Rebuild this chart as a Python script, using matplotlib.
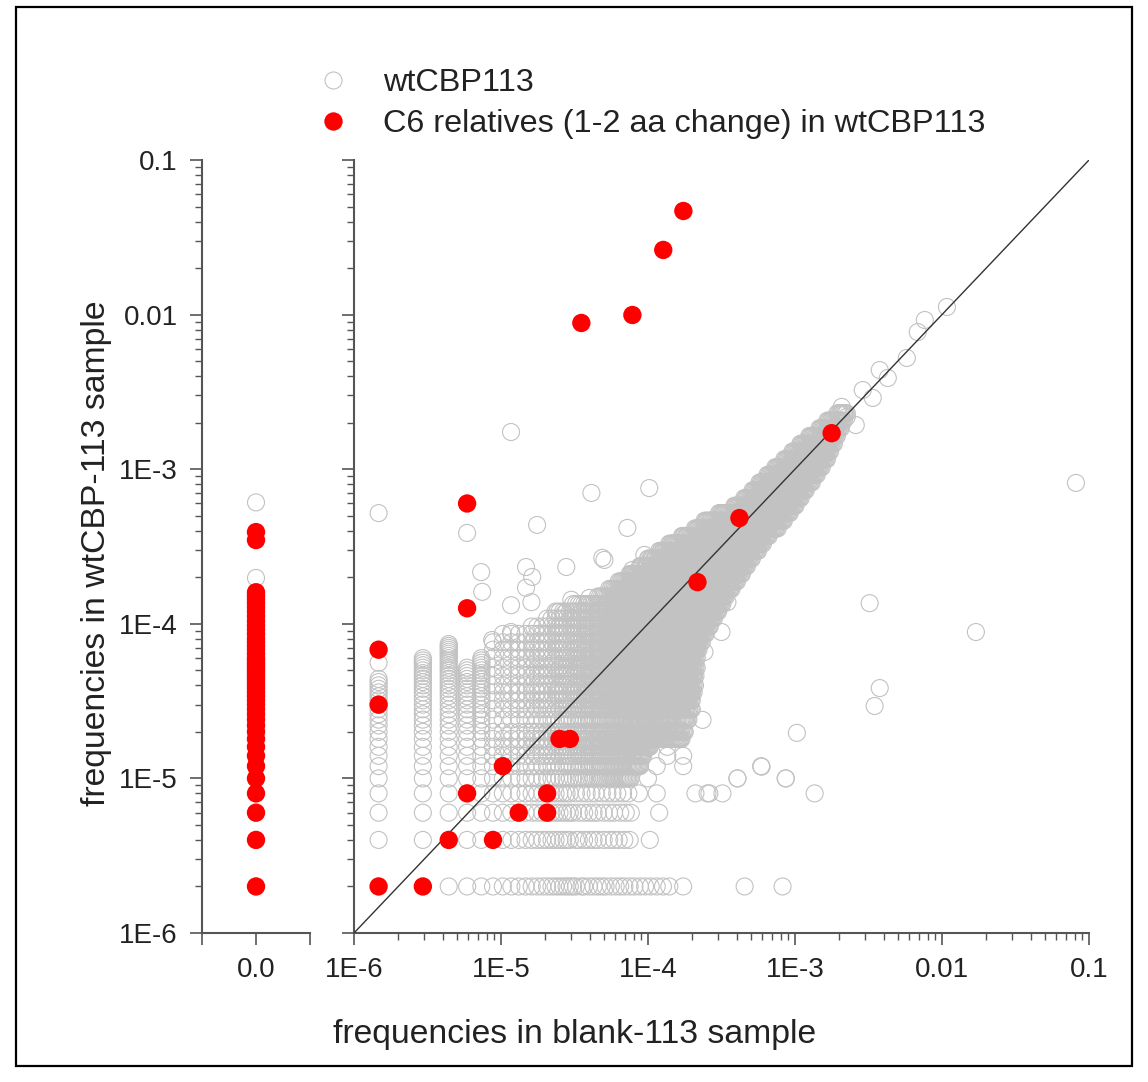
import numpy as np
import matplotlib
matplotlib.use('Agg')
import matplotlib.pyplot as plt
from matplotlib import font_manager
from matplotlib.lines import Line2D
from matplotlib.patches import Rectangle

# one read in each sample
x_unit = 1.47e-6   # blank-113
y_unit = 2.0e-6    # wtCBP-113

# sparse low rows of the grey cloud: y read count -> x read counts
low_rows_k = [1, 2, 3, 4]
low_rows_m = [
    [3, 4, 5, 6, 7, 8, 9, 10, 11, 12, 13, 14, 15, 16, 17, 18, 19, 20, 21, 22, 24, 25, 27,
     29, 31, 33, 35, 38, 41, 44, 47, 51, 55, 60, 65, 71, 78, 86, 95, 118, 309, 560],
    [1, 2, 4, 5, 7, 8, 9, 10, 11, 12, 13, 14, 15, 16, 17, 18, 19, 20, 22, 23, 25, 27, 29,
     31, 34, 37, 40, 43, 47, 51, 70],
    [1, 2, 3, 4, 5, 6, 7, 8, 10, 11, 12, 13, 15, 16, 17, 18, 19, 20, 21, 23, 25, 27, 29,
     31, 34, 37, 40, 44, 48, 52, 81],
    [1, 2, 3, 5, 6, 7, 8, 9, 10, 11, 12, 13, 15, 16, 17, 18, 19, 20, 22, 24, 26, 28, 30,
     33, 36, 39, 42, 46, 50, 59, 78, 143, 178],
]

# rows 5..8 are filled from one read up to the last count
mid_rows_k = [5, 6, 7, 8]
mid_rows_last = [52, 60, 63, 70]
mid_rows_extra = [[68, 276, 590], [78, 118, 400], [92, 118], [92]]

# stacks in the first x columns: x count -> highest y count
stack_m = [1, 2, 3, 4, 5]
stack_top = [22, 30, 37, 26, 30]

# dense core strips: y count, first and last x count
core_k = [9, 10, 12, 14, 16, 18, 20, 23, 26, 30, 34, 38, 43, 48, 54, 60, 67, 75, 84, 94,
          105, 118, 132, 148, 165, 185, 207, 232, 260, 290, 325, 365, 410, 460, 515, 580,
          650, 730, 820, 920, 1030, 1150]
core_m_lo = [6, 6, 6, 6, 6, 6, 6, 6, 6, 6, 6, 6, 7, 11, 14, 16, 21, 31, 37, 43,
             51, 60, 68, 81, 95, 116, 142, 165, 207, 263, 307, 350, 390, 442, 500, 576,
             653, 740, 851, 998, 1130, 1322]
core_m_hi = [115, 121, 128, 135, 135, 139, 142, 143, 146, 146, 150, 158, 168, 179, 191, 204,
             218, 230, 252, 274, 296, 320, 346, 381, 412, 451, 519, 571, 626, 686, 744, 805,
             885, 956, 1035, 1121, 1177, 1250, 1310, 1394, 1460, 1531]

# isolated grey points (frequencies)
iso_x = [1.47e-6, 1.47e-6, 1.17e-5, 5.88e-6, 1.76e-5, 4.12e-5, 1.02e-4, 7.24e-5, 7.33e-6,
         1.48e-5, 1.63e-5, 2.78e-5, 4.89e-5, 9.45e-5, 7.45e-6, 1.17e-5, 1.61e-5, 3.01e-5,
         3.99e-5, 2.70e-5, 7.83e-5, 6.38e-5, 8.71e-6, 1.17e-5, 2.41e-5, 5.05e-5, 1.48e-5,
         8.15e-2, 1.70e-2, 3.22e-3, 3.77e-3, 3.48e-3, 1.03e-3, 5.92e-4, 4.06e-4, 8.63e-4,
         1.36e-3, 3.21e-4, 2.54e-4, 3.47e-4, 3.16e-4, 2.42e-4, 2.35e-4,
         1.08e-2, 7.64e-3, 6.84e-3, 5.76e-3, 3.77e-3, 4.28e-3, 3.38e-3, 2.89e-3, 2.08e-3,
         2.25e-3, 2.59e-3]
iso_y = [5.2e-4, 5.6e-5, 1.74e-3, 3.87e-4, 4.36e-4, 7.02e-4, 7.55e-4, 4.17e-4, 2.16e-4,
         2.33e-4, 2.01e-4, 2.33e-4, 2.67e-4, 2.79e-4, 1.61e-4, 1.32e-4, 1.38e-4, 1.43e-4,
         1.47e-4, 1.17e-4, 2.23e-4, 1.66e-4, 7.86e-5, 8.85e-5, 1.19e-4, 2.59e-4, 1.71e-4,
         8.15e-4, 8.85e-5, 1.36e-4, 3.84e-5, 2.94e-5, 1.97e-5, 1.19e-5, 1.0e-5, 1.0e-5,
         8e-6, 8e-6, 8e-6, 1.38e-4, 8.85e-5, 6.57e-5, 2.39e-5,
         1.12e-2, 9.23e-3, 7.71e-3, 5.24e-3, 4.38e-3, 3.89e-3, 2.89e-3, 3.25e-3, 2.53e-3,
         2.18e-3, 1.93e-3]

# C6 relatives present in both samples
red_x = [1.47e-6, 2.94e-6, 4.41e-6, 8.82e-6, 1.32e-5, 2.06e-5, 5.88e-6, 2.06e-5, 1.03e-5,
         2.5e-5, 2.94e-5, 1.47e-6, 1.47e-6, 5.88e-6, 5.88e-6, 2.17e-4, 4.19e-4, 1.775e-3,
         3.52e-5, 7.83e-5, 1.27e-4, 1.74e-4]
red_y = [2e-6, 2e-6, 4e-6, 4e-6, 6e-6, 6e-6, 8e-6, 8e-6, 1.2e-5, 1.8e-5, 1.8e-5, 3e-5,
         6.8e-5, 1.26e-4, 6e-4, 1.86e-4, 4.83e-4, 1.71e-3, 8.83e-3, 9.94e-3, 2.62e-2, 4.68e-2]

# absent from blank sample (left panel), y read counts
left_grey_k = [99, 305]
left_red_k = list(range(1, 31)) + [32, 34, 36, 38, 40, 43, 46, 49, 52, 56, 60, 64, 68,
                                   72, 76, 80, 174, 196]

decade_vals = [1e-6, 1e-5, 1e-4, 1e-3, 1e-2, 1e-1]
decade_labels = ['1E-6', '1E-5', '1E-4', '1E-3', '0.01', '0.1']

# fonts
names = {f.name for f in font_manager.fontManager.ttflist}
if 'Liberation Sans Narrow' in names:
    fam, fs_big, fs_leg, fs_tick = 'Liberation Sans Narrow', 29, 28, 24
else:
    fam, fs_big, fs_leg, fs_tick = 'Liberation Sans', 24.3, 23.3, 20
plt.rcParams['font.family'] = [fam, 'DejaVu Sans']

# expand grey cloud
gx, gy = [], []
for k, ms in zip(low_rows_k, low_rows_m):
    gx += [m * x_unit for m in ms]
    gy += [k * y_unit] * len(ms)
for k, last, extra in zip(mid_rows_k, mid_rows_last, mid_rows_extra):
    ms = list(range(1, last + 1)) + extra
    gx += [m * x_unit for m in ms]
    gy += [k * y_unit] * len(ms)
for m, top in zip(stack_m, stack_top):
    ks = range(9, top + 1)
    gx += [m * x_unit] * len(ks)
    gy += [k * y_unit for k in ks]
for k, lo, hi in zip(core_k, core_m_lo, core_m_hi):
    n = max(2, int(np.log10(hi / lo) / 0.008) + 1)
    ms = np.unique(np.round(np.geomspace(lo, hi, n)))
    gx += list(ms * x_unit)
    gy += [k * y_unit] * len(ms)
gx += iso_x
gy += iso_y

grey = '#c2c2c2'
red = '#ff0000'
axc = '#555555'
s_grey = 150
s_red = 175

fig = plt.figure(figsize=(11.48, 10.82), dpi=100)
ax0 = fig.add_axes([202 / 1148, 1 - 933 / 1082, 108 / 1148, 773 / 1082])
ax = fig.add_axes([354 / 1148, 1 - 933 / 1082, 735 / 1148, 773 / 1082])

ax.scatter(gx, gy, s=s_grey, facecolors='none', edgecolors=grey, linewidths=0.8, zorder=2)
ax.plot([1e-6, 0.1], [1e-6, 0.1], color='#333333', lw=1.0, zorder=3)
ax.scatter(red_x, red_y, s=s_red, color=red, edgecolors='none', zorder=4)

ax0.scatter([0] * len(left_grey_k), [k * y_unit for k in left_grey_k], s=s_grey,
            facecolors='none', edgecolors=grey, linewidths=0.8, zorder=2)
ax0.scatter([0] * len(left_red_k), [k * y_unit for k in left_red_k], s=s_red,
            color=red, edgecolors='none', zorder=4)

for a in (ax, ax0):
    a.set_yscale('log')
    a.set_ylim(1e-6, 0.1)
    for side in ('top', 'right'):
        a.spines[side].set_visible(False)
    for side in ('left', 'bottom'):
        a.spines[side].set_color(axc)
        a.spines[side].set_linewidth(1.5)
    a.tick_params(which='major', direction='out', length=8.6, width=1.2, color=axc,
                  labelsize=fs_tick, labelcolor='#222222', pad=9)
    a.tick_params(which='minor', direction='out', length=5, width=1.0, color=axc)
    a.set_yticks(decade_vals)

ax.set_xscale('log')
ax.set_xlim(1e-6, 0.1)
ax.set_xticks(decade_vals)
ax.set_xticklabels(decade_labels)
ax.set_yticklabels([''] * len(decade_vals))

ax0.set_yticklabels(decade_labels)
ax0.set_xlim(-1, 1)
ax0.set_xticks([-1, 0, 1])
ax0.set_xticklabels(['', '0.0', ''])

fig.text(575 / 1148, 1 - 1035 / 1082, 'frequencies in blank-113 sample',
         ha='center', va='center', fontsize=fs_big, color='#222222')
fig.text(97 / 1148, 1 - 553 / 1082, 'frequencies in wtCBP-113 sample', rotation=90,
         ha='center', va='center', fontsize=fs_big, color='#222222')

fs_px = fs_leg * 100 / 72
handles = [Line2D([], [], ls='none', marker='o', markersize=np.sqrt(s_grey),
                  markerfacecolor='none', markeredgecolor=grey, markeredgewidth=0.8),
           Line2D([], [], ls='none', marker='o', markersize=np.sqrt(s_red),
                  markerfacecolor=red, markeredgecolor='none')]
fig.legend(handles, ['wtCBP113', 'C6 relatives (1-2 aa change) in wtCBP113'],
           loc='center left', bbox_to_anchor=(313 / 1148, 1 - 103.5 / 1082),
           frameon=False, fontsize=fs_leg, borderpad=0, borderaxespad=0,
           handlelength=40 / fs_px, handletextpad=30 / fs_px, labelspacing=0.35,
           labelcolor='#222222')

fig.patches.append(Rectangle((16 / 1148, 1 - 1066 / 1082), 1116 / 1148, 1059 / 1082,
                             transform=fig.transFigure, fill=False,
                             edgecolor='black', lw=1.6))

fig.savefig('out.png', dpi=100)
